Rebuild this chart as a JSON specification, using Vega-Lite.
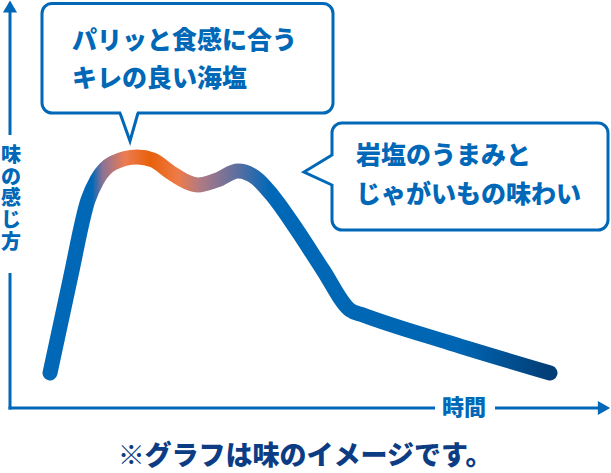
{
  "$schema": "https://vega.github.io/schema/vega-lite/v6.json",
  "width": 611,
  "height": 473,
  "padding": 0,
  "autosize": {"type": "none"},
  "background": "white",
  "config": {"view": {"stroke": null}},
  "datasets": {
    "curve": [
      {"t": 50, "v": 373}, {"t": 70, "v": 280}, {"t": 88, "v": 200}, {"t": 97, "v": 180},
      {"t": 113, "v": 163}, {"t": 137, "v": 157}, {"t": 153, "v": 160}, {"t": 170, "v": 172},
      {"t": 187, "v": 182}, {"t": 198, "v": 185}, {"t": 217, "v": 180}, {"t": 238, "v": 171},
      {"t": 256, "v": 178}, {"t": 272, "v": 195}, {"t": 297, "v": 230}, {"t": 323, "v": 270},
      {"t": 350, "v": 310}, {"t": 363, "v": 315}, {"t": 450, "v": 343}, {"t": 550, "v": 373}
    ],
    "axes": [
      {"x": 10, "y": 12, "x2": 10, "y2": 135},
      {"x": 10, "y": 273, "x2": 10, "y2": 409.5},
      {"x": 8.5, "y": 408, "x2": 435, "y2": 408},
      {"x": 495, "y": 408, "x2": 598, "y2": 408}
    ],
    "bubbles": [
      {"x": 42, "x2": 333, "y": 3.5, "y2": 113},
      {"x": 332, "x2": 608, "y": 123, "y2": 230}
    ],
    "gaps": [
      {"x": 121, "x2": 137, "y": 110, "y2": 116},
      {"x": 329, "x2": 336, "y": 156, "y2": 184}
    ],
    "tails": [
      {"b": 1, "i": 1, "x": 120, "y": 113}, {"b": 1, "i": 2, "x": 130, "y": 141}, {"b": 1, "i": 3, "x": 138, "y": 113},
      {"b": 2, "i": 1, "x": 332, "y": 155}, {"b": 2, "i": 2, "x": 304, "y": 172}, {"b": 2, "i": 3, "x": 332, "y": 185}
    ]
  },
  "layer": [
    {
      "data": {"name": "axes"},
      "mark": {"type": "rule", "color": "#0068b7", "strokeWidth": 3},
      "encoding": {
        "x": {"field": "x", "type": "quantitative", "scale": {"domain": [0, 611], "nice": false, "zero": false}, "axis": null},
        "y": {"field": "y", "type": "quantitative", "scale": {"domain": [0, 473], "nice": false, "zero": false, "reverse": true}, "axis": null},
        "x2": {"field": "x2"},
        "y2": {"field": "y2"}
      }
    },
    {
      "data": {"values": [{"x": 10, "y": 6.5, "dir": "up"}]},
      "mark": {"type": "point", "shape": "triangle-up", "size": 200, "filled": true, "color": "#0068b7", "opacity": 1},
      "encoding": {
        "x": {"field": "x", "type": "quantitative", "axis": null},
        "y": {"field": "y", "type": "quantitative", "axis": null}
      }
    },
    {
      "data": {"values": [{"x": 604, "y": 408, "dir": "right"}]},
      "mark": {"type": "point", "shape": "triangle-right", "size": 200, "filled": true, "color": "#0068b7", "opacity": 1},
      "encoding": {
        "x": {"field": "x", "type": "quantitative", "axis": null},
        "y": {"field": "y", "type": "quantitative", "axis": null}
      }
    },
    {
      "data": {"name": "curve"},
      "mark": {
        "type": "line",
        "interpolate": "monotone",
        "strokeWidth": 15,
        "strokeCap": "round",
        "strokeJoin": "round",
        "stroke": {
          "gradient": "linear",
          "x1": 0, "y1": 0, "x2": 1, "y2": 0,
          "stops": [
            {"offset": 0, "color": "#0068b7"},
            {"offset": 0.084, "color": "#0068b7"},
            {"offset": 0.105, "color": "#8a7296"},
            {"offset": 0.15, "color": "#ec7c52"},
            {"offset": 0.2, "color": "#e8600a"},
            {"offset": 0.256, "color": "#ee7b48"},
            {"offset": 0.3, "color": "#b07a84"},
            {"offset": 0.374, "color": "#5d6ea0"},
            {"offset": 0.44, "color": "#0068b7"},
            {"offset": 0.82, "color": "#0066b3"},
            {"offset": 1, "color": "#023d75"}
          ]
        }
      },
      "encoding": {
        "x": {"field": "t", "type": "quantitative", "axis": null},
        "y": {"field": "v", "type": "quantitative", "axis": null}
      }
    },
    {
      "data": {"name": "bubbles"},
      "mark": {"type": "rect", "fill": "white", "stroke": "#0068b7", "strokeWidth": 3, "cornerRadius": 10},
      "encoding": {
        "x": {"field": "x", "type": "quantitative", "axis": null},
        "x2": {"field": "x2"},
        "y": {"field": "y", "type": "quantitative", "axis": null},
        "y2": {"field": "y2"}
      }
    },
    {
      "data": {"name": "gaps"},
      "mark": {"type": "rect", "fill": "white", "strokeWidth": 0},
      "encoding": {
        "x": {"field": "x", "type": "quantitative", "axis": null},
        "x2": {"field": "x2"},
        "y": {"field": "y", "type": "quantitative", "axis": null},
        "y2": {"field": "y2"}
      }
    },
    {
      "data": {"name": "tails"},
      "mark": {"type": "line", "color": "#0068b7", "strokeWidth": 3, "strokeJoin": "miter"},
      "encoding": {
        "x": {"field": "x", "type": "quantitative", "axis": null},
        "y": {"field": "y", "type": "quantitative", "axis": null},
        "detail": {"field": "b"},
        "order": {"field": "i"}
      }
    },
    {
      "data": {"values": [
        {"x": 72, "y": 41, "label": "パリッと食感に合う"},
        {"x": 72, "y": 79, "label": "キレの良い海塩"},
        {"x": 356, "y": 156, "label": "岩塩のうまみと"},
        {"x": 356, "y": 195, "label": "じゃがいもの味わい"}
      ]},
      "mark": {"type": "text", "align": "left", "baseline": "middle", "font": "'Noto Sans CJK JP Black', 'Noto Sans CJK JP'", "fontWeight": 900, "fontSize": 25, "color": "#0068b7"},
      "encoding": {
        "x": {"field": "x", "type": "quantitative", "axis": null},
        "y": {"field": "y", "type": "quantitative", "axis": null},
        "text": {"field": "label"}
      }
    },
    {
      "data": {"values": [{"x": 11, "y": 146, "label": ["味", "の", "感", "じ", "方"]}]},
      "mark": {"type": "text", "align": "center", "baseline": "top", "font": "'Noto Sans CJK JP Black', 'Noto Sans CJK JP'", "fontWeight": 900, "fontSize": 20, "lineHeight": 21.7, "color": "#0068b7"},
      "encoding": {
        "x": {"field": "x", "type": "quantitative", "axis": null},
        "y": {"field": "y", "type": "quantitative", "axis": null},
        "text": {"field": "label"}
      }
    },
    {
      "data": {"values": [{"x": 464, "y": 408, "label": "時間"}]},
      "mark": {"type": "text", "align": "center", "baseline": "middle", "font": "'Noto Sans CJK JP Black', 'Noto Sans CJK JP'", "fontWeight": 900, "fontSize": 22, "color": "#0068b7"},
      "encoding": {
        "x": {"field": "x", "type": "quantitative", "axis": null},
        "y": {"field": "y", "type": "quantitative", "axis": null},
        "text": {"field": "label"}
      }
    },
    {
      "data": {"values": [{"x": 305, "y": 457, "label": "※グラフは味のイメージです。"}]},
      "mark": {"type": "text", "align": "center", "baseline": "middle", "font": "'Noto Sans CJK JP Black', 'Noto Sans CJK JP'", "fontWeight": 900, "fontSize": 27, "color": "#0c3d84"},
      "encoding": {
        "x": {"field": "x", "type": "quantitative", "axis": null},
        "y": {"field": "y", "type": "quantitative", "axis": null},
        "text": {"field": "label"}
      }
    }
  ]
}
